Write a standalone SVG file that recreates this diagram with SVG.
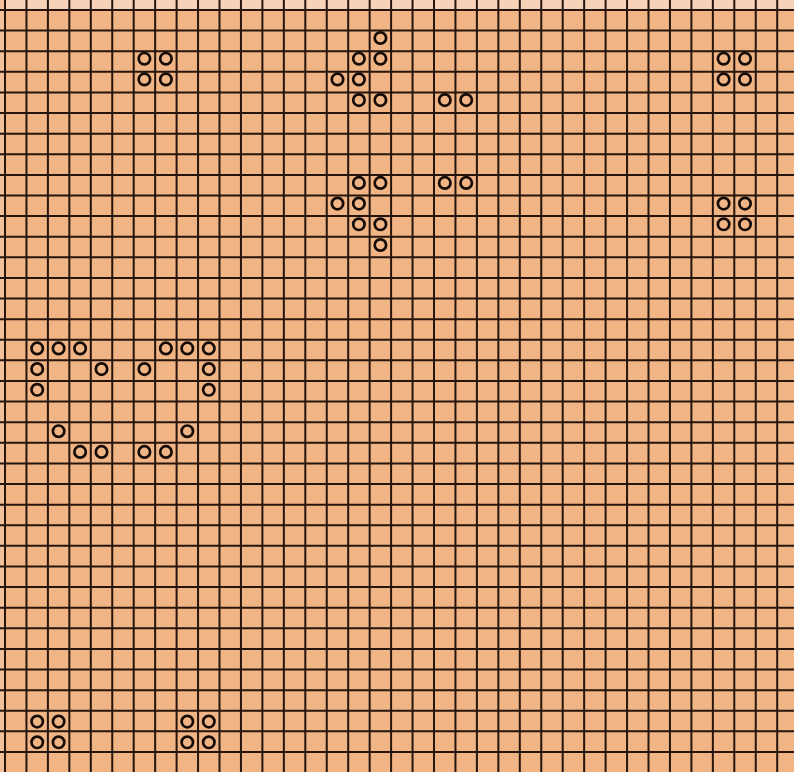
<svg xmlns="http://www.w3.org/2000/svg" xmlns:xlink="http://www.w3.org/1999/xlink" width="794" height="772" viewBox="0 0 794 772">
<style>
.grid{stroke:#26150d;stroke-width:2;fill:none}
.cell{fill:none;stroke:#150b07;stroke-width:2.7}
</style>
<defs>
<circle id="c" r="5.7" class="cell"/>
</defs>
<rect x="0" y="0" width="794" height="772" fill="#F1B484"/>
<rect x="0" y="0" width="794" height="9" fill="#F6D3B8"/>
<rect x="0" y="0" width="4" height="772" fill="#F3C09A"/>
<g id="grid" class="grid">
<path d="M5 0V772M26.45 0V772M47.9 0V772M69.35 0V772M90.8 0V772M112.25 0V772M133.7 0V772M155.15 0V772M176.6 0V772M198.05 0V772M219.5 0V772M240.95 0V772M262.4 0V772M283.85 0V772M305.3 0V772M326.75 0V772M348.2 0V772M369.65 0V772M391.1 0V772M412.55 0V772M434 0V772M455.45 0V772M476.9 0V772M498.35 0V772M519.8 0V772M541.25 0V772M562.7 0V772M584.15 0V772M605.6 0V772M627.05 0V772M648.5 0V772M669.95 0V772M691.4 0V772M712.85 0V772M734.3 0V772M755.75 0V772M777.2 0V772"/>
<path d="M0 10H794M0 30.61H794M0 51.22H794M0 71.83H794M0 92.44H794M0 113.05H794M0 133.66H794M0 154.27H794M0 174.88H794M0 195.49H794M0 216.1H794M0 236.71H794M0 257.32H794M0 277.93H794M0 298.54H794M0 319.15H794M0 339.76H794M0 360.37H794M0 380.98H794M0 401.59H794M0 422.2H794M0 442.81H794M0 463.42H794M0 484.03H794M0 504.64H794M0 525.25H794M0 545.86H794M0 566.47H794M0 587.08H794M0 607.69H794M0 628.3H794M0 648.91H794M0 669.52H794M0 690.13H794M0 710.74H794M0 731.35H794M0 751.96H794"/>
</g>
<g id="block-top-left">
<use xlink:href="#c" x="144.4" y="58.7"/><use xlink:href="#c" x="165.9" y="58.7"/>
<use xlink:href="#c" x="144.4" y="79.4"/><use xlink:href="#c" x="165.9" y="79.4"/>
</g>
<g id="shape-top">
<use xlink:href="#c" x="380.4" y="38.0"/>
<use xlink:href="#c" x="358.9" y="58.7"/><use xlink:href="#c" x="380.4" y="58.7"/>
<use xlink:href="#c" x="337.5" y="79.4"/><use xlink:href="#c" x="358.9" y="79.4"/>
<use xlink:href="#c" x="358.9" y="100.1"/><use xlink:href="#c" x="380.4" y="100.1"/>
<use xlink:href="#c" x="444.8" y="100.1"/><use xlink:href="#c" x="466.2" y="100.1"/>
</g>
<g id="shape-mid">
<use xlink:href="#c" x="358.9" y="182.9"/><use xlink:href="#c" x="380.4" y="182.9"/>
<use xlink:href="#c" x="444.8" y="182.9"/><use xlink:href="#c" x="466.2" y="182.9"/>
<use xlink:href="#c" x="337.5" y="203.6"/><use xlink:href="#c" x="358.9" y="203.6"/>
<use xlink:href="#c" x="358.9" y="224.3"/><use xlink:href="#c" x="380.4" y="224.3"/>
<use xlink:href="#c" x="380.4" y="245.0"/>
</g>
<g id="block-top-right">
<use xlink:href="#c" x="723.6" y="58.7"/><use xlink:href="#c" x="745.0" y="58.7"/>
<use xlink:href="#c" x="723.6" y="79.4"/><use xlink:href="#c" x="745.0" y="79.4"/>
</g>
<g id="block-mid-right">
<use xlink:href="#c" x="723.6" y="203.6"/><use xlink:href="#c" x="745.0" y="203.6"/>
<use xlink:href="#c" x="723.6" y="224.3"/><use xlink:href="#c" x="745.0" y="224.3"/>
</g>
<g id="shape-left">
<use xlink:href="#c" x="37.2" y="348.4"/><use xlink:href="#c" x="58.6" y="348.4"/><use xlink:href="#c" x="80.1" y="348.4"/>
<use xlink:href="#c" x="165.9" y="348.4"/><use xlink:href="#c" x="187.3" y="348.4"/><use xlink:href="#c" x="208.8" y="348.4"/>
<use xlink:href="#c" x="37.2" y="369.1"/><use xlink:href="#c" x="101.5" y="369.1"/><use xlink:href="#c" x="144.4" y="369.1"/><use xlink:href="#c" x="208.8" y="369.1"/>
<use xlink:href="#c" x="37.2" y="389.8"/><use xlink:href="#c" x="208.8" y="389.8"/>
<use xlink:href="#c" x="58.6" y="431.2"/><use xlink:href="#c" x="187.3" y="431.2"/>
<use xlink:href="#c" x="80.1" y="451.9"/><use xlink:href="#c" x="101.5" y="451.9"/><use xlink:href="#c" x="144.4" y="451.9"/><use xlink:href="#c" x="165.9" y="451.9"/>
</g>
<g id="block-bottom-left">
<use xlink:href="#c" x="37.2" y="721.6"/><use xlink:href="#c" x="58.6" y="721.6"/>
<use xlink:href="#c" x="37.2" y="742.3"/><use xlink:href="#c" x="58.6" y="742.3"/>
</g>
<g id="block-bottom-mid">
<use xlink:href="#c" x="187.3" y="721.6"/><use xlink:href="#c" x="208.8" y="721.6"/>
<use xlink:href="#c" x="187.3" y="742.3"/><use xlink:href="#c" x="208.8" y="742.3"/>
</g>
</svg>
